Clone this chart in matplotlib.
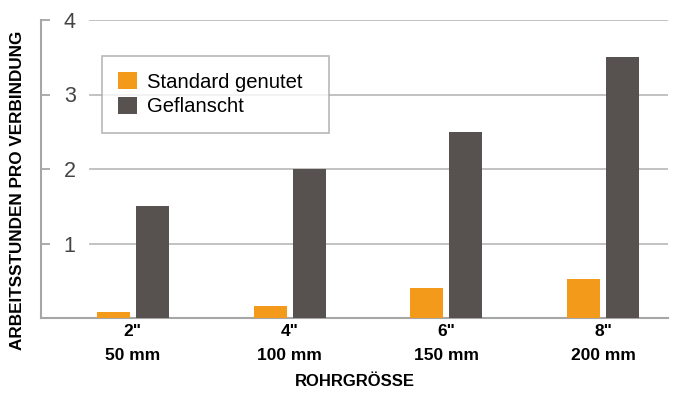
import numpy as np
import matplotlib.pyplot as plt

plt.rcParams['font.family'] = ['Liberation Sans', 'DejaVu Sans']

sizes = ['2"\n50 mm', '4"\n100 mm', '6"\n150 mm', '8"\n200 mm']
standard = [0.08, 0.16, 0.40, 0.53]
flanged = [1.5, 2.0, 2.5, 3.5]
yticks = [1, 2, 3, 4]

orange = '#F39A1B'
dark = '#57524F'
line = '#A6A6A6'

fig = plt.figure(figsize=(6.78, 3.94), dpi=100)
ax = fig.add_axes([41/678, 1-318/394, 627/678, 298/394])

x = np.arange(len(sizes))
w = 0.21
ax.bar(x - 0.124, standard, w, color=orange, label='Standard genutet', zorder=3)
ax.bar(x + 0.124, flanged, w, color=dark, label='Geflanscht', zorder=3)

ax.set_xlim(-0.586, 3.414)
ax.set_ylim(0, 4)

# gridlines start right of the tick labels
for v in yticks:
    ax.axhline(v, xmin=0.078, xmax=1, color='#BDBDBD', lw=1.3, zorder=1)

ax.set_yticks(yticks)
ax.set_yticklabels([str(v) for v in yticks])
ax.tick_params(axis='y', direction='in', length=6.5, width=1.3, color=line,
               pad=-25, labelsize=15.5, labelcolor='#444444')
for lbl in ax.get_yticklabels():
    lbl.set_horizontalalignment('right')

ax.set_xticks(x)
ax.set_xticklabels(sizes, fontweight='bold', fontsize=12.5, linespacing=1.8)
ax.tick_params(axis='x', length=0, pad=4)

for s in ['top', 'right']:
    ax.spines[s].set_visible(False)
for s in ['left', 'bottom']:
    ax.spines[s].set_color(line)
    ax.spines[s].set_linewidth(1.5)

ax.set_ylabel('ARBEITSSTUNDEN PRO VERBINDUNG', fontweight='bold', fontsize=12.3)
ax.yaxis.set_label_coords(-0.026, 0.43)
ax.set_xlabel('ROHRGRÖSSE', fontweight='bold', fontsize=12, labelpad=8)

leg = ax.legend(loc='upper left', bbox_to_anchor=(0.0973, 0.62, 0.362, 0.26),
                mode='expand', fontsize=14.6,
                frameon=True, fancybox=False, edgecolor='#A6A6A6',
                handlelength=0.95, handleheight=0.95, handletextpad=0.45,
                borderpad=0.8, labelspacing=0.25, borderaxespad=0)
leg.get_frame().set_linewidth(1.2)
leg.set_zorder(5)

fig.savefig('out.png', dpi=100)
